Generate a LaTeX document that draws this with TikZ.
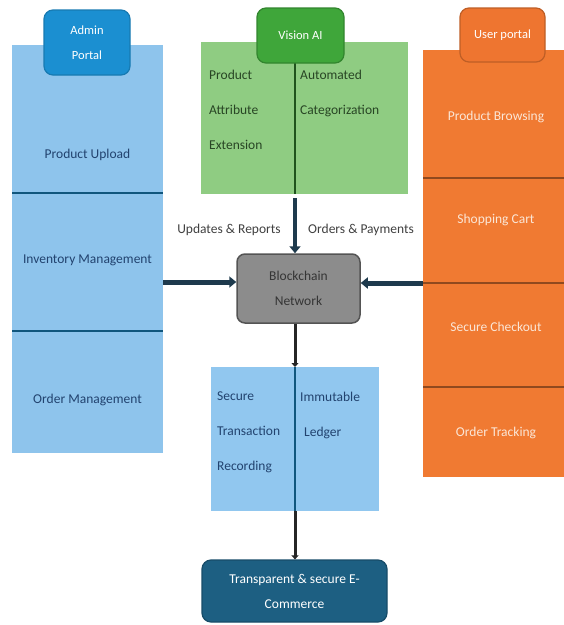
\documentclass[tikz,border=0pt]{standalone}
\usepackage{fontspec}
\setmainfont{Carlito}
\usetikzlibrary{arrows.meta,positioning}

\definecolor{adminfill}{HTML}{8EC4EC}
\definecolor{admintab}{HTML}{1B8FD1}
\definecolor{admintext}{HTML}{22436F}
\definecolor{aifill}{HTML}{8FCC82}
\definecolor{aitab}{HTML}{3FA63A}
\definecolor{aitext}{HTML}{284524}
\definecolor{userfill}{HTML}{F07A32}
\definecolor{usertab}{HTML}{EE7530}
\definecolor{usertext}{HTML}{FBE6D6}
\definecolor{chainfill}{HTML}{8C8C8C}
\definecolor{chaintext}{HTML}{353535}
\definecolor{ledgerfill}{HTML}{91C7EF}
\definecolor{shopfill}{HTML}{1D5F82}
\definecolor{linkcol}{HTML}{1E3A4D}

\tikzset{
  sect/.style={anchor=north west, inner sep=0pt, outer sep=0pt},
  txt/.style={font=\fontsize{13.5}{16}\selectfont, inner sep=1pt},
  col/.style={anchor=north west, align=left, inner sep=1pt, font=\fontsize{13.5}{35}\selectfont},
  tab/.style={rounded corners=9pt, line width=1.2pt, text=white, align=center,
              inner sep=0pt, font=\fontsize{12.5}{25}\selectfont},
  link/.style={draw=linkcol, line width=5pt, -{Triangle[length=7pt,width=11pt]}},
  feed/.style={draw=black!85, line width=3pt, -{Triangle[length=4pt,width=7pt]}},
}

\begin{document}
\begin{tikzpicture}[x=1pt, y=-1pt]
\useasboundingbox (0,0) rectangle (564,625);

% admin portal
\node[sect, fill=adminfill, minimum width=151pt, minimum height=148pt] (upload) at (12,45) {};
\node[sect, fill=adminfill, minimum width=151pt, minimum height=138pt] (inventory) at (upload.south west) {};
\node[sect, fill=adminfill, minimum width=151pt, minimum height=122pt] (orders) at (inventory.south west) {};
\draw [line width=1.5pt, admintab!60!black] (upload.south west) -- (upload.south east);
\draw [line width=1.5pt, admintab!60!black] (inventory.south west) -- (inventory.south east);
\node[tab, fill=admintab, draw=admintab!85!black, minimum width=86pt, minimum height=65pt]
  (admintabn) at (87,42.5) {Admin\\Portal};
\node[txt, text=admintext] (uploadtxt) at (87.5,155) {Product Upload};
\node[txt, text=admintext] (inventorytxt) at (87.5,260) {Inventory Management};
\node[txt, text=admintext] (orderstxt) at (87.5,400) {Order Management};

% vision ai
\node[sect, fill=aifill, minimum width=94pt, minimum height=152pt] (attribute) at (201,42) {};
\node[sect, fill=aifill, minimum width=113pt, minimum height=152pt] (category) at (attribute.north east) {};
\draw [line width=1.2pt, aitab!50!black] (attribute.north east) -- (attribute.south east);
\node[tab, fill=aitab, draw=aitab!80!black, minimum width=87pt, minimum height=55pt]
  (aitabn) at (300.5,35.5) {Vision AI};
\node[col, text=aitext] (attributetxt) at (208,68.5) {Product\\Attribute\\Extension};
\node[col, text=aitext] (categorytxt) at (299,69) {Automated\\Categorization};

% user portal
\node[sect, fill=userfill, minimum width=141pt, minimum height=128pt] (browse) at (423,50) {};
\node[sect, fill=userfill, minimum width=141pt, minimum height=105pt] (cart) at (browse.south west) {};
\node[sect, fill=userfill, minimum width=141pt, minimum height=104pt] (checkout) at (cart.south west) {};
\node[sect, fill=userfill, minimum width=141pt, minimum height=90pt] (tracking) at (checkout.south west) {};
\draw [line width=1.5pt, userfill!60!black] (browse.south west) -- (browse.south east);
\draw [line width=1.5pt, userfill!60!black] (cart.south west) -- (cart.south east);
\draw [line width=1.5pt, userfill!60!black] (checkout.south west) -- (checkout.south east);
\node[tab, fill=usertab, draw=usertab!80!black, minimum width=85pt, minimum height=54pt]
  (usertabn) at (502.5,35) {User portal};
\node[txt, text=usertext] (browsetxt) at (496,117) {Product Browsing};
\node[txt, text=usertext] (carttxt) at (496,220) {Shopping Cart};
\node[txt, text=usertext] (checkouttxt) at (496,327) {Secure Checkout};
\node[txt, text=usertext] (trackingtxt) at (496,433) {Order Tracking};

% blockchain
\node[draw=chainfill!60!black, fill=chainfill, rounded corners=8pt, line width=1.5pt,
      minimum width=123pt, minimum height=69pt, align=center, text=chaintext,
      font=\fontsize{13.5}{25}\selectfont] (chain) at (298.5,288.5) {Blockchain\\Network};
\node[txt, text=black!75] (updates) at (229,230) {Updates \& Reports};
\node[txt, text=black!75] (payments) at (361,230) {Orders \& Payments};

% ledger
\node[sect, fill=ledgerfill, minimum width=84pt, minimum height=144pt] (record) at (211,367) {};
\node[sect, fill=ledgerfill, minimum width=84pt, minimum height=144pt] (ledger) at (record.north east) {};
\draw [line width=1.2pt, admintab!60!black] (record.north east) -- (record.south east);
\node[col, text=admintext] (recordtxt) at (216,391) {Secure\\Transaction\\Recording};
\node[col, text=admintext] (ledgertxt) at (299,390.5) {Immutable\\\hspace*{4pt}Ledger};

\node[fill=shopfill, draw=shopfill!80!black, rounded corners=9pt, line width=1.2pt,
      minimum width=185pt, minimum height=62pt, text=white, align=center,
      font=\fontsize{13.5}{25}\selectfont] (shop) at (294.5,591) {Transparent \& secure E-\\Commerce};

% connectors
\draw [link] ([yshift=-20pt]inventory.east) -- ([yshift=-20pt]inventory.east -| chain.west);
\draw [link] (cart.south west) -- (cart.south west -| chain.east);
\draw [link, line width=4pt] ([yshift=-4pt]attribute.south east) -- (attribute.south east |- chain.north);
\draw [feed] (record.north east |- chain.south) -- (record.north east);
\draw [feed] (record.south east) -- (shop.north -| record.south east);
\end{tikzpicture}
\end{document}
